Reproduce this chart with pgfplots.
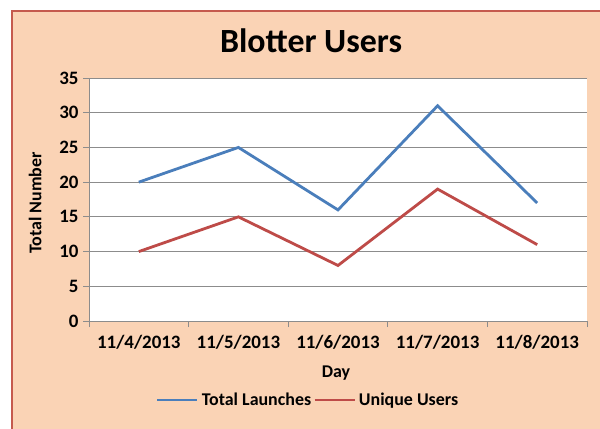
\documentclass[border=0pt]{standalone}
\usepackage{fontspec}
\setmainfont{Carlito}
\usepackage{pgfplots}
\pgfplotsset{compat=1.18}
\definecolor{peach}{HTML}{FAD3B5}
\definecolor{frame}{HTML}{C55A4E}
\definecolor{lblue}{HTML}{4A7EBB}
\definecolor{lred}{HTML}{BE4B48}
\definecolor{gridg}{HTML}{8C8C8C}

\begin{document}
\begin{tikzpicture}[x=1bp,y=1bp]
\useasboundingbox (0,0) rectangle (600,428);
\clip (0,0) rectangle (600,428);
\fill[white] (0,0) rectangle (600,428);
\filldraw[fill=peach,draw=frame,line width=2.5bp] (12,-10) rectangle (615,417);
\begin{axis}[
    at={(89bp,107bp)},anchor=south west,
    scale only axis,
    width=498bp,height=243bp,
    axis background/.style={fill=white},
    xmin=-0.5,xmax=4.5,ymin=0,ymax=35,
    xtick={0,1,2,3,4},
    xticklabels={11/4/2013,11/5/2013,11/6/2013,11/7/2013,11/8/2013},
    minor xtick={-0.5,0.5,1.5,2.5,3.5,4.5},
    ytick={0,5,...,35},
    major x tick style={draw=none},
    minor tick length=6bp,
    major tick length=6bp,
    tick align=outside,
    xtick pos=bottom,ytick pos=left,
    ymajorgrids=true,
    grid style={gridg,line width=0.9bp},
    tick style={gridg,line width=0.9bp},
    axis x line*=bottom,axis y line*=left,
    axis line style={gridg,line width=0.9bp,-},
    /pgf/number format/assume math mode=true,
    ticklabel style={font=\fontsize{19}{20}\selectfont\bfseries},
    xticklabel style={yshift=-5bp},
    yticklabel style={xshift=-1bp},
    title={Blotter Users},
    title style={font=\fontsize{34}{36}\selectfont\bfseries,at={(axis description cs:0.446,1.128)},anchor=center},
    xlabel={Day},
    xlabel style={font=\fontsize{18}{20}\selectfont\bfseries,at={(axis description cs:0.496,-0.214)},anchor=center},
    ylabel={Total Number},
    ylabel style={font=\fontsize{18}{20}\selectfont\bfseries,at={(axis description cs:-0.108,0.486)},anchor=center,rotate=0},
    legend columns=2,
    legend style={draw=none,fill=none,font=\fontsize{18}{20}\selectfont\bfseries,
        at={(axis description cs:0.44,-0.325)},anchor=center,
        /tikz/every odd column/.append style={column sep=1bp},
        /tikz/every even column/.append style={column sep=0bp}},
    legend image code/.code={\draw[#1] (0bp,0bp) -- (40bp,0bp);},
]
\addplot[lblue,line width=2.8bp] coordinates {(0,20) (1,25) (2,16) (3,31) (4,17)};
\addplot[lred,line width=2.8bp] coordinates {(0,10) (1,15) (2,8) (3,19) (4,11)};
\legend{Total Launches,Unique Users}
\end{axis}
\end{tikzpicture}
\end{document}
